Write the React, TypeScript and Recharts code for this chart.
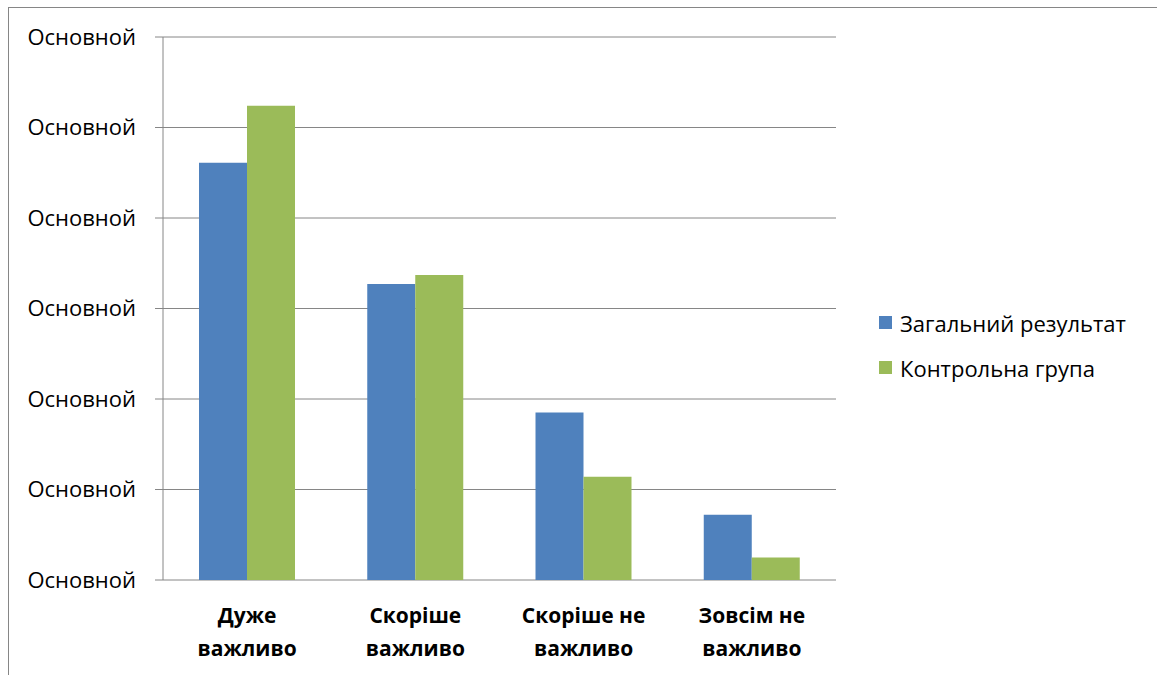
import { BarChart, Bar, XAxis, YAxis, CartesianGrid, Legend } from "recharts";

const categories = ["Дуже\nважливо", "Скоріше\nважливо", "Скоріше не\nважливо", "Зовсім не\nважливо"];
const totalResult = [46.1, 32.7, 18.5, 7.2];
const controlGroup = [52.4, 33.7, 11.4, 2.5];
const yTicks = [0, 10, 20, 30, 40, 50, 60];
const yTickLabel = "Основной";
const edgeTicks = [0, 1, 2, 3, 4];
const seriesNames = ["Загальний результат", "Контрольна група"];
const seriesColors = ["#4F81BD", "#9BBB59"];

const data = categories.map((name, i) => ({
  name,
  total: totalResult[i],
  control: controlGroup[i],
}));

const FONT = '"Open Sans", "Noto Sans", sans-serif';
const GRID = "#868686";

function CategoryTick(props: any) {
  const { x, y, payload } = props;
  const lines = String(payload.value).split("\n");
  return (
    <text x={x} y={y} textAnchor="middle" fontFamily={FONT} fontSize={21} fontWeight="bold" fill="#000">
      {lines.map((line, i) => (
        <tspan key={i} x={x} dy={i === 0 ? 43 : 33}>
          {line}
        </tspan>
      ))}
    </text>
  );
}

function LegendContent() {
  return (
    <div style={{ fontFamily: FONT, fontSize: 22, color: "#000" }}>
      {seriesNames.map((name, i) => (
        <div key={name} style={{ display: "flex", alignItems: "center", height: 45 }}>
          <span style={{ width: 13, height: 13, background: seriesColors[i], marginRight: 8 }} />
          <span>{name}</span>
        </div>
      ))}
    </div>
  );
}

export default function App() {
  return (
    <div style={{ position: "relative", width: 1157, height: 675, overflow: "hidden", background: "#fff" }}>
      <style>{"body{margin:0}"}</style>
      <div
        style={{
          position: "absolute",
          left: 8,
          top: 7,
          width: 2000,
          height: 2000,
          borderLeft: `1px solid ${GRID}`,
          borderTop: `1px solid ${GRID}`,
        }}
      />
      <div style={{ position: "absolute", left: 0, top: 0 }}>
        <BarChart
          width={1157}
          height={675}
          data={data}
          margin={{ top: 37, right: 321, left: 0, bottom: 0 }}
          barCategoryGap="21.4%"
          barGap={0}
        >
          <CartesianGrid vertical={false} stroke={GRID} />
          <XAxis
            xAxisId="edges"
            type="number"
            domain={[0, 4]}
            ticks={edgeTicks}
            tick={false}
            height={0}
            tickSize={8}
            stroke={GRID}
            allowDataOverflow
          />
          <XAxis
            xAxisId={0}
            dataKey="name"
            axisLine={false}
            tickLine={false}
            tickSize={0}
            tickMargin={0}
            height={95}
            interval={0}
            tick={<CategoryTick />}
          />
          <YAxis
            domain={[0, 60]}
            ticks={yTicks}
            width={163}
            tickSize={8}
            tickMargin={19}
            stroke={GRID}
            tickFormatter={() => yTickLabel}
            tick={{ fontFamily: FONT, fontSize: 22, fill: "#000" }}
          />
          <Legend
            layout="horizontal"
            verticalAlign="middle"
            align="center"
            content={<LegendContent />}
            wrapperStyle={{ left: 879, top: 300, width: 270 }}
          />
          <Bar dataKey="total" name={seriesNames[0]} fill={seriesColors[0]} isAnimationActive={false} />
          <Bar dataKey="control" name={seriesNames[1]} fill={seriesColors[1]} isAnimationActive={false} />
        </BarChart>
      </div>
    </div>
  );
}
